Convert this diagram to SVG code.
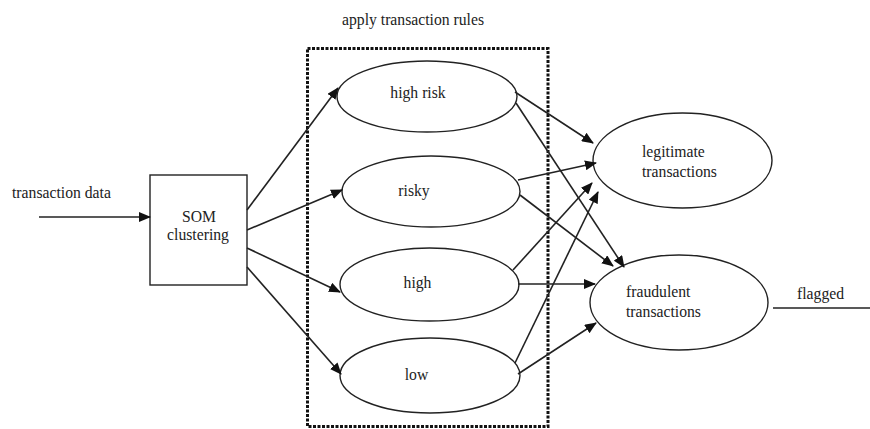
<svg xmlns="http://www.w3.org/2000/svg" width="870" height="429" viewBox="0 0 870 429" font-family="'Liberation Serif', 'DejaVu Serif', serif">
<style>
text{font-family:'Liberation Serif','DejaVu Serif',serif;font-size:15.7px;fill:#222}
.n{fill:#fff;stroke:#222;stroke-width:1.4}
.c{stroke:#222;stroke-width:1.6;fill:none}
.a{marker-end:url(#ah)}
.m{text-anchor:middle}
</style>
<defs>
<marker id="ah" markerWidth="12" markerHeight="10" viewBox="0 0 12 10" refX="11" refY="5" orient="auto" markerUnits="userSpaceOnUse">
<path d="M0,0 L12,5 L0,10 z" fill="#111"/>
</marker>
</defs>
<rect width="870" height="429" fill="#fff"/>
<g id="group-rules">
<rect x="307.5" y="48.5" width="240.5" height="378" fill="none" stroke="#111" stroke-width="3" stroke-dasharray="3 1.5"/>
<text x="342" y="25">apply transaction rules</text>
</g>
<g id="input">
<text x="12" y="198">transaction data</text>
</g>
<g id="som">
<rect class="n" x="150" y="175" width="97" height="110"/>
<text class="m" x="199" y="222">SOM</text>
<text class="m" x="198" y="240">clustering</text>
</g>
<g id="high-risk">
<ellipse class="n" cx="427" cy="96.5" rx="90" ry="35.5"/>
<text class="m" x="418" y="98">high risk</text>
</g>
<g id="risky">
<ellipse class="n" cx="431" cy="191.5" rx="89" ry="35.5"/>
<text class="m" x="414" y="196">risky</text>
</g>
<g id="high">
<ellipse class="n" cx="429.5" cy="284.5" rx="89.5" ry="36.5"/>
<text class="m" x="417.5" y="288">high</text>
</g>
<g id="low">
<ellipse class="n" cx="430" cy="375.5" rx="90" ry="37.5"/>
<text class="m" x="416.5" y="380">low</text>
</g>
<g id="legitimate">
<ellipse class="n" cx="682.5" cy="160.5" rx="89.5" ry="47.5"/>
<text x="642" y="157">legitimate</text>
<text x="642" y="177">transactions</text>
</g>
<g id="fraudulent">
<ellipse class="n" cx="679" cy="302.5" rx="89" ry="47.5"/>
<text x="626" y="297">fraudulent</text>
<text x="626" y="317">transactions</text>
</g>
<g id="flagged">
<text x="797" y="299">flagged</text>
</g>
<g id="connectors">
<line class="c a" x1="39" y1="217" x2="150" y2="217"/>
<line class="c a" x1="247" y1="210" x2="338" y2="88"/>
<line class="c a" x1="247" y1="230" x2="342" y2="190"/>
<line class="c a" x1="247" y1="248" x2="340" y2="292"/>
<line class="c a" x1="247" y1="267" x2="341" y2="374"/>
<line class="c a" x1="515" y1="92" x2="593" y2="143"/>
<line class="c a" x1="516" y1="103" x2="624" y2="267"/>
<line class="c a" x1="518" y1="180" x2="596" y2="163"/>
<line class="c a" x1="520" y1="195" x2="613" y2="266"/>
<line class="c a" x1="513" y1="270" x2="592" y2="183"/>
<line class="c a" x1="518" y1="284" x2="595" y2="284"/>
<line class="c a" x1="515" y1="363" x2="598" y2="192"/>
<line class="c a" x1="518" y1="374" x2="596" y2="323"/>
<line class="c" x1="773" y1="308" x2="870" y2="308"/>
</g>
</svg>
